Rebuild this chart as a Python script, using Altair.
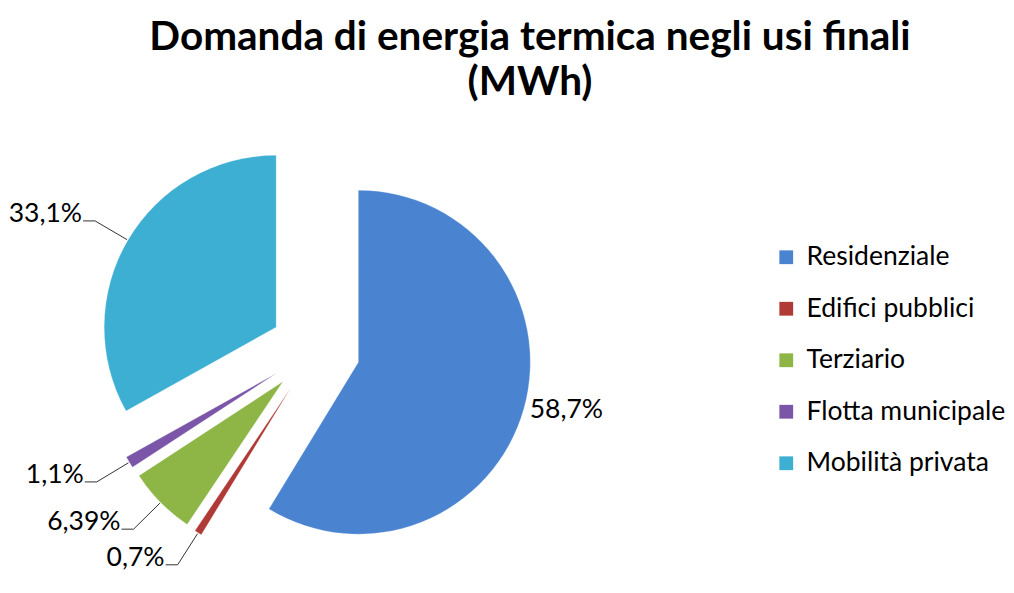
import altair as alt
import pandas as pd

categories = ["Residenziale", "Edifici pubblici", "Terziario", "Flotta municipale", "Mobilità privata"]
shares = [58.7, 0.7, 6.39, 1.1, 33.1]
share_labels = ["58,7%", "0,7%", "6,39%", "1,1%", "33,1%"]
colors = ["#4A84D0", "#B03A36", "#8DB646", "#7A55A8", "#3DAFD2"]
title_lines = ["Domanda di energia termica negli usi finali", "(MWh)"]

df = pd.DataFrame({
    "cat": categories,
    "share": shares,
    "label": share_labels,
    "order": list(range(len(categories))),
})

# layout constants (pixels inside the view)
CX, CY = 307, 342      # pie centre
D = 45                 # explosion distance
R = 172                # pie radius
L = 38                 # leader length beyond the rim
TAIL = 12              # horizontal tail of the leader
FONT = "Lato"
FS = 26.5

base = (
    alt.Chart(df)
    .transform_joinaggregate(total="sum(share)")
    .transform_window(cum="sum(share)", sort=[alt.SortField("order")], frame=[None, 0])
    .transform_calculate(t1="datum.cum / datum.total * 2 * PI")
    .transform_calculate(t0="(datum.cum - datum.share) / datum.total * 2 * PI")
    .transform_calculate(mid="(datum.t0 + datum.t1) / 2")
    .transform_calculate(cx=f"{CX} + {D} * sin(datum.mid)")
    .transform_calculate(cy=f"{CY} - {D} * cos(datum.mid)")
    .transform_calculate(ax=f"datum.cx + {R + 1} * sin(datum.mid)")
    .transform_calculate(ay=f"datum.cy - {R + 1} * cos(datum.mid)")
    .transform_calculate(ex=f"datum.cx + {R + L} * sin(datum.mid)")
    .transform_calculate(ey=f"datum.cy - {R + L} * cos(datum.mid)")
    .transform_calculate(tx=f"datum.ex + (sin(datum.mid) < 0 ? -{TAIL} : {TAIL})")
    .transform_calculate(lx=f"datum.cx + {R + 6} * sin(datum.mid)")
    .transform_calculate(ly=f"datum.cy - {R + 6} * cos(datum.mid)")
    .transform_calculate(leader="datum.share < 50")
)

arcs = base.mark_arc(radius=R, stroke="#ffffff", strokeOpacity=0.25, strokeWidth=1).encode(
    x=alt.X("cx:Q", scale=None, axis=None),
    y=alt.Y("cy:Q", scale=None, axis=None),
    theta=alt.Theta("t0:Q", scale=None, stack=None),
    theta2="t1:Q",
    color=alt.Color(
        "cat:N",
        sort=categories,
        scale=alt.Scale(domain=categories, range=colors),
        legend=alt.Legend(
            title=None,
            orient="none",
            legendX=765,
            legendY=236,
            direction="vertical",
            symbolType="square",
            symbolSize=190,
            symbolStrokeWidth=0,
            labelFont=FONT,
            labelFontSize=FS,
            labelColor="#000000",
            labelOffset=7,
            labelLimit=0,
            rowPadding=24.5,
        ),
    ),
)

lead1 = base.transform_filter("datum.leader").mark_rule(color="#333333", strokeWidth=1).encode(
    x=alt.X("ax:Q", scale=None), y=alt.Y("ay:Q", scale=None), x2="ex:Q", y2="ey:Q"
)
lead2 = base.transform_filter("datum.leader").mark_rule(color="#333333", strokeWidth=1).encode(
    x=alt.X("ex:Q", scale=None), y=alt.Y("ey:Q", scale=None), x2="tx:Q", y2="ey:Q"
)

lab_lead = base.transform_filter("datum.leader").mark_text(
    align="right", baseline="alphabetic", dx=-1, dy=1, font=FONT, fontSize=FS, color="#000000"
).encode(x=alt.X("tx:Q", scale=None), y=alt.Y("ey:Q", scale=None), text="label:N")

lab_in = base.transform_filter("!datum.leader").mark_text(
    align="left", baseline="middle", font=FONT, fontSize=FS, color="#000000"
).encode(x=alt.X("lx:Q", scale=None), y=alt.Y("ly:Q", scale=None), text="label:N")

tdata = alt.Data(values=[{"t": 0}])
title1 = alt.Chart(tdata).mark_text(
    align="center", baseline="middle", font=FONT, fontSize=40.5, fontWeight="bold", color="#000000"
).encode(x=alt.value(522), y=alt.value(30), text=alt.value(title_lines[0]))
title2 = alt.Chart(tdata).mark_text(
    align="center", baseline="middle", font=FONT, fontSize=40.5, fontWeight="bold", color="#000000"
).encode(x=alt.value(522), y=alt.value(75), text=alt.value(title_lines[1]))

chart = (
    alt.layer(arcs, lead1, lead2, lab_lead, lab_in, title1, title2)
    .properties(width=998, height=577, padding=0, autosize="none")
    .configure_view(stroke=None)
)

chart.save("out.html", embed_options={"renderer": "svg", "actions": False})
